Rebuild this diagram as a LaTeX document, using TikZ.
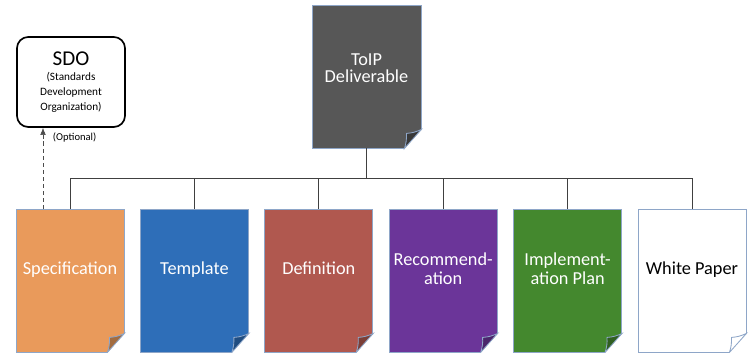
\documentclass[tikz,border=0pt]{standalone}
\usepackage{fontspec}
\setmainfont{Carlito}
\usetikzlibrary{calc,arrows.meta}
\definecolor{pageedge}{HTML}{8EA6C8}
\definecolor{toipgray}{HTML}{575757}
\definecolor{specorange}{HTML}{E99A5B}
\definecolor{tempblue}{HTML}{2E6EB8}
\definecolor{defred}{HTML}{B0584F}
\definecolor{recpurple}{HTML}{6B3599}
\definecolor{implgreen}{HTML}{44882E}
\tikzset{
  docpage/.style={draw=pageedge, line width=0.6pt, minimum width=2.7cm,
    minimum height=3.575cm, inner sep=0pt, align=center, text=white,
    font=\fontsize{13}{14}\selectfont, text depth=17pt},
  tree/.style={draw=black!75, line width=0.6pt},
}
% curled corner at the bottom right of a page
\newcommand{\pagefold}[2]{%
  \fill[white] ($(#1.south east)+(0,19)$) -- ($(#1.south east)+(1,19)$)
    -- ($(#1.south east)+(1,-1)$) -- ($(#1.south east)+(-17,-1)$)
    -- ($(#1.south east)+(-17,0)$) -- cycle;
  \filldraw[draw=pageedge, line width=0.6pt, fill=#2]
    ($(#1.south east)+(0,19)$) to[bend left=10] ($(#1.south east)+(-15,15)$)
    to[bend left=10] ($(#1.south east)+(-17,0)$) -- cycle;
}

\begin{document}
\begin{tikzpicture}[x=0.025cm,y=0.025cm]
  \useasboundingbox (0,0) rectangle (749,353);

  \node [docpage, fill=toipgray, minimum width=2.725cm, text depth=12pt,
    font=\fontsize{13}{12.5}\selectfont] (toip)
    at (366.5,276.5) {ToIP\\Deliverable};

  \node [docpage, fill=specorange] (spec) at (70,72.5) {Specification};
  \node [docpage, fill=tempblue] (temp) at (194.4,72.5) {Template};
  \node [docpage, fill=defred] (defn) at (318.8,72.5) {Definition};
  \node [docpage, fill=recpurple] (recm) at (443.2,72.5) {Recommend-\\ation};
  \node [docpage, fill=implgreen] (impl) at (567.6,72.5) {Implement-\\ation Plan};
  \node [docpage, fill=white, text=black] (wpaper) at (692,72.5) {White Paper};

  \pagefold{toip}{toipgray!65!black}
  \pagefold{spec}{specorange!70!black}
  \pagefold{temp}{tempblue!70!black}
  \pagefold{defn}{defred!70!black}
  \pagefold{recm}{recpurple!70!black}
  \pagefold{impl}{implgreen!70!black}
  \pagefold{wpaper}{white}

  \coordinate (bus) at (366.5,175);
  \draw [tree] (toip.south) -- (bus);
  \foreach \d in {spec,temp,defn,recm,impl,wpaper}
    \draw [tree] (bus) -| (\d.north);

  \node [draw, line width=1.2pt, rounded corners=8pt, minimum width=2.7cm,
    minimum height=2.25cm, align=center, font=\fontsize{8}{10.5}\selectfont] (sdo)
    at (71,271) {\fontsize{15}{19}\selectfont SDO\\
    \fontsize{8}{10.5}\selectfont(Standards\\Development\\Organization)};

  \coordinate (optbase) at (43,144);
  \draw [black!70, dashed, dash pattern=on 3pt off 2pt, -{Latex[length=5pt,width=4pt]}]
    (optbase) -- (optbase |- sdo.south);
  \node [anchor=west, font=\fontsize{7.5}{9}\selectfont] (optional) at (48,216) {(Optional)};
\end{tikzpicture}
\end{document}
